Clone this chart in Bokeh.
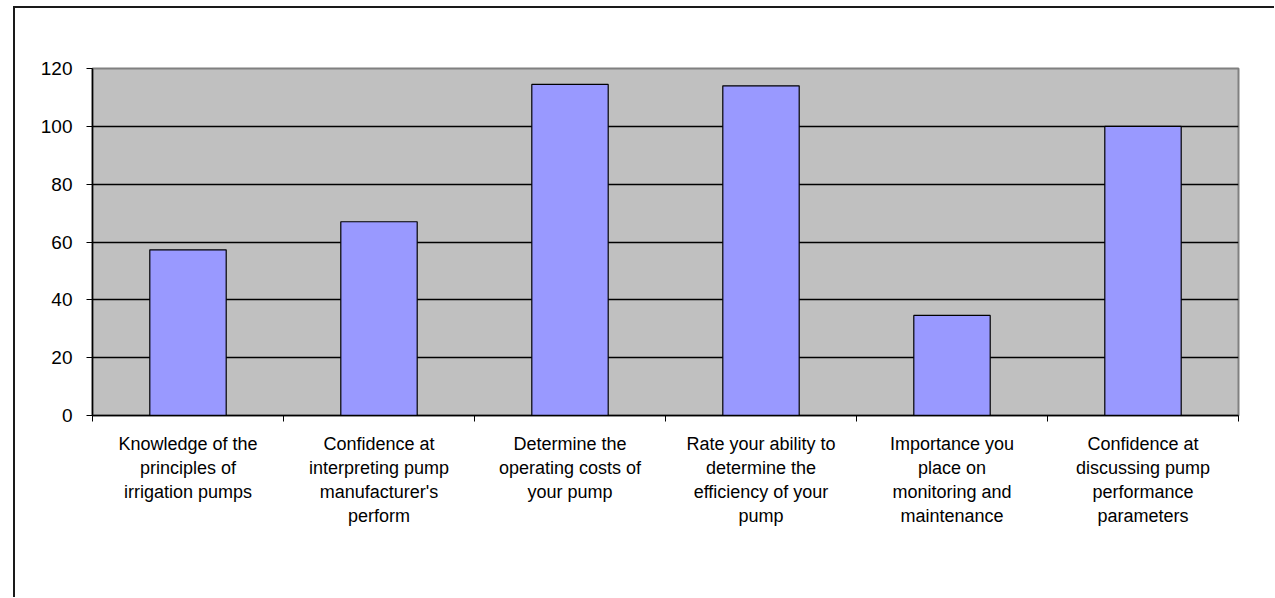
from bokeh.plotting import figure
from bokeh.models import Range1d, FixedTicker
from bokeh.embed import file_html
from bokeh.resources import INLINE

categories = [
    "Knowledge of the\nprinciples of\nirrigation pumps",
    "Confidence at\ninterpreting pump\nmanufacturer's\nperform",
    "Determine the\noperating costs of\nyour pump",
    "Rate your ability to\ndetermine the\nefficiency of your\npump",
    "Importance you\nplace on\nmonitoring and\nmaintenance",
    "Confidence at\ndiscussing pump\nperformance\nparameters",
]
values = [57.3, 67, 114.5, 114, 34.6, 100]
y_ticks = [0, 20, 40, 60, 80, 100, 120]
grid_ticks = [20, 40, 60, 80, 100]

positions = [i + 0.5 for i in range(len(categories))]
boundaries = [i for i in range(len(categories) + 1)]

FONT = "Liberation Sans"

p = figure(
    output_backend="svg", toolbar_location=None, tools="",
    frame_width=1146, frame_height=347,
    min_border_left=77, min_border_right=36, min_border_top=60, min_border_bottom=182,
    x_range=Range1d(0, len(categories)), y_range=Range1d(0, 120),
)
p.margin = (6, 0, 0, 13)
p.styles = {"border-left": "2px solid #1a1a1a", "border-top": "2px solid #1a1a1a"}

p.background_fill_color = "#C0C0C0"
p.border_fill_color = "white"
p.outline_line_color = "#808080"
p.outline_line_width = 2

p.vbar(x=positions, top=values, width=0.4, bottom=0,
       fill_color="#9999FF", line_color="black", line_width=1.2)

p.xgrid.grid_line_color = None
p.ygrid.ticker = FixedTicker(ticks=grid_ticks)
p.ygrid.grid_line_color = "black"
p.ygrid.grid_line_width = 1.4

# y axis
ya = p.yaxis[0]
ya.ticker = FixedTicker(ticks=y_ticks)
ya.axis_line_color = "black"
ya.axis_line_width = 1.5
ya.major_tick_line_color = "black"
ya.major_tick_out = 6
ya.major_tick_in = 0
ya.minor_tick_line_color = None
ya.major_label_standoff = 14
ya.major_label_text_font = FONT
ya.major_label_text_font_size = "19px"
ya.major_label_text_color = "black"

# x axis
xa = p.xaxis[0]
xa.ticker = FixedTicker(ticks=positions, minor_ticks=boundaries)
xa.major_label_overrides = {pos: cat for pos, cat in zip(positions, categories)}
xa.axis_line_color = "black"
xa.axis_line_width = 1.5
xa.major_tick_line_color = None
xa.major_tick_out = 6
xa.major_tick_in = 0
xa.minor_tick_line_color = "black"
xa.minor_tick_out = 6
xa.minor_tick_in = 0
xa.major_label_standoff = 12
xa.major_label_text_font = FONT
xa.major_label_text_font_size = "18px"
xa.major_label_text_color = "black"
xa.major_label_orientation = "horizontal"

open("out.html", "w").write(file_html(p, INLINE))
